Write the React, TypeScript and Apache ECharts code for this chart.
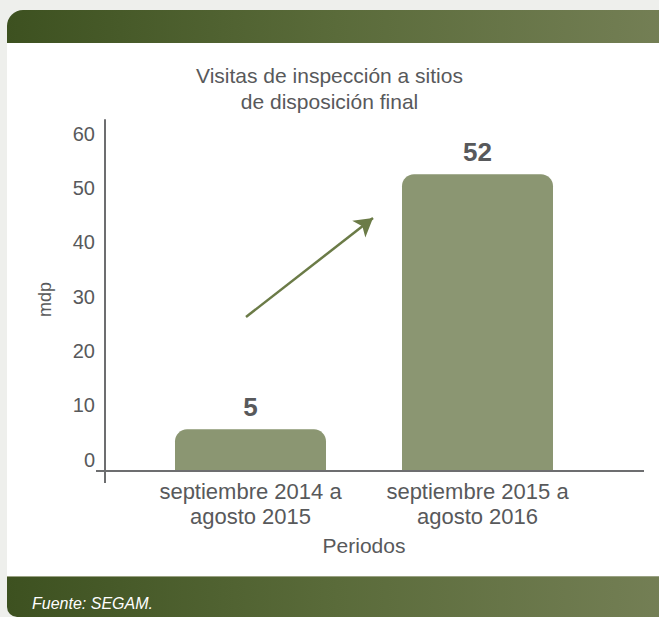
import React, { useEffect, useRef } from "react";
import * as echarts from "echarts";

// ---- data ----
const categories: string[] = ["septiembre 2014 a\nagosto 2015", "septiembre 2015 a\nagosto 2016"];
const values: number[] = [5, 52];
const yTickStep = 10;
const titleText = "Visitas de inspección a sitios\nde disposición final";
const xName = "Periodos";
const yName = "mdp";
const sourceText = "Fuente: SEGAM.";

// ---- layout / style ----
const W = 659;
const H = 617;
const FONT = "'Liberation Sans', Arial, Helvetica, sans-serif";
const TEXT = "#58595b";
const AXIS = "#6d6e70";
const BAR = "#8b9672";
const ARROW = "#6b7b47";
const gridLeft = 137;
const gridRight = 68;
const gridTop = 120;
const gridBottom = 146;
const axisX = 105;
const axisY = H - gridBottom;
const yMin = -2.67;
const yMax = 62;

export default function App() {
  const ref = useRef<HTMLDivElement>(null);

  useEffect(() => {
    if (!ref.current) return;
    const chart = echarts.init(ref.current, undefined, { renderer: "svg" });
    const band = (x: number, y: number, w: number, h: number, r: number[]) => ({
      type: "rect",
      z: -10,
      shape: { x, y, width: w, height: h, r },
      style: {
        fill: new echarts.graphic.LinearGradient(0, 0, 1, 0, [
          { offset: 0, color: "#3d5120" },
          { offset: 0.5, color: "#5a6b3a" },
          { offset: 1, color: "#747f55" },
        ]),
      },
    });
    chart.setOption({
      animation: false,
      backgroundColor: "#eeefec",
      textStyle: { fontFamily: FONT },
      title: {
        text: titleText,
        left: "center",
        top: 62,
        padding: 0,
        textStyle: { fontFamily: FONT, fontSize: 21, lineHeight: 26, fontWeight: "normal", color: TEXT },
      },
      graphic: [
        { type: "rect", z: -20, shape: { x: 7, y: 10, width: W, height: H - 10, r: [16, 0, 0, 10] }, style: { fill: "#ffffff" } },
        band(7, 10, W, 33, [16, 0, 0, 0]),
        band(7, 576, W, H - 576, [0, 0, 0, 10]),
        { type: "rect", z: -9, shape: { x: 7, y: 576, width: W, height: 1 }, style: { fill: "#9aa283" } },
        {
          type: "text",
          z: 10,
          x: 32,
          y: 603,
          style: { text: sourceText, fontFamily: FONT, fontSize: 16, fontStyle: "italic", fill: "#ffffff", verticalAlign: "middle" },
        },
        { type: "line", z: 10, shape: { x1: 96, y1: axisY, x2: 644, y2: axisY }, style: { stroke: AXIS, lineWidth: 2 } },
        { type: "line", z: 10, shape: { x1: axisX, y1: axisY, x2: axisX, y2: 483 }, style: { stroke: AXIS, lineWidth: 2 } },
      ],
      grid: { left: gridLeft, right: gridRight, top: gridTop, bottom: gridBottom, containLabel: false },
      xAxis: {
        type: "category",
        data: categories,
        axisLine: { show: false },
        axisTick: { show: false },
        axisLabel: { fontFamily: FONT, fontSize: 22, lineHeight: 25, color: TEXT, margin: 8, interval: 0 },
        name: xName,
        nameLocation: "middle",
        nameGap: 64,
        nameTextStyle: { fontFamily: FONT, fontSize: 21, color: TEXT },
      },
      yAxis: {
        type: "value",
        min: yMin,
        max: yMax,
        startValue: yMin,
        minInterval: yTickStep,
        maxInterval: yTickStep,
        offset: gridLeft - axisX,
        splitLine: { show: false },
        axisTick: { show: false },
        axisLine: { show: true, lineStyle: { color: AXIS, width: 2 } },
        axisLabel: {
          fontFamily: FONT,
          fontSize: 20,
          lineHeight: 6,
          verticalAlign: "top",
          color: TEXT,
          margin: 10,
          formatter: (v: number) => (v >= 0 && Math.abs(v % yTickStep) < 1e-6 ? String(v) : ""),
        },
        name: yName,
        nameLocation: "middle",
        nameGap: 51,
        nameTextStyle: { fontFamily: FONT, fontSize: 18, color: TEXT, padding: [0, 8, 0, 0] },
      },
      series: [
        {
          type: "bar",
          data: values,
          barWidth: 151,
          itemStyle: { color: BAR, borderRadius: [12, 12, 0, 0] },
          label: {
            show: true,
            position: "top",
            distance: 9,
            fontFamily: FONT,
            fontSize: 26,
            fontWeight: "bold",
            color: TEXT,
          },
          markLine: {
            silent: true,
            symbol: ["none", "arrow"],
            symbolSize: [16, 18],
            label: { show: false },
            lineStyle: { color: ARROW, width: 2.5, type: "solid" },
            data: [[{ x: 246, y: 317 }, { x: 373, y: 218 }]],
          },
        },
      ],
    });
    return () => chart.dispose();
  }, []);

  return <div ref={ref} style={{ position: "fixed", left: 0, top: 0, width: W, height: H }} />;
}
